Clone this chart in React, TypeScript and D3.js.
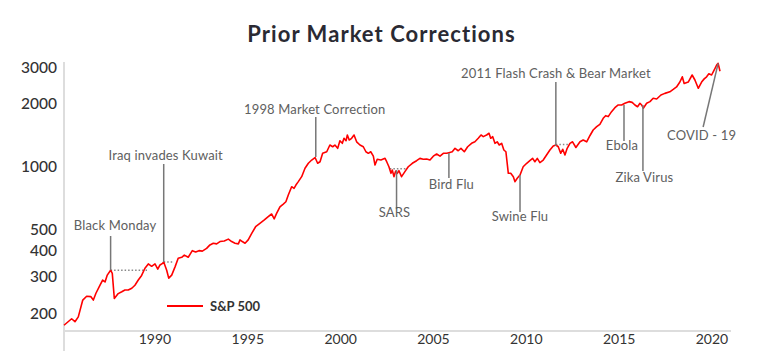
import * as d3 from 'd3';

// S&P 500 level, [decimal year, index]
const spx1985 = [
  [1985.10, 175], [1985.51, 188], [1985.69, 182], [1985.87, 192], [1986.11, 231], [1986.32, 241],
  [1986.54, 240], [1986.68, 231], [1986.82, 249], [1987.04, 272], [1987.18, 288], [1987.31, 282],
  [1987.43, 304], [1987.61, 321], [1987.70, 310], [1987.81, 235], [1988.02, 248], [1988.21, 253],
  [1988.38, 258], [1988.56, 258], [1988.75, 263], [1988.92, 272], [1989.10, 288], [1989.28, 303],
  [1989.46, 328], [1989.64, 344], [1989.82, 335], [1990.00, 344], [1990.15, 325], [1990.27, 340],
  [1990.41, 346], [1990.47, 351], [1990.63, 321], [1990.74, 294], [1990.90, 304], [1991.08, 333],
];
const spx1991 = [
  [1991.25, 366], [1991.44, 370], [1991.58, 379], [1991.79, 370], [1992.01, 398], [1992.19, 392],
  [1992.37, 398], [1992.55, 396], [1992.78, 408], [1992.96, 424], [1993.14, 432], [1993.32, 429],
  [1993.50, 440], [1993.73, 443], [1993.95, 452], [1994.13, 440], [1994.31, 432], [1994.49, 429],
  [1994.58, 448], [1994.70, 440], [1994.85, 432], [1995.02, 448], [1995.21, 481], [1995.42, 518],
  [1995.65, 537], [1995.89, 558], [1996.10, 579], [1996.28, 596], [1996.42, 565], [1996.55, 600],
  [1996.73, 645], [1996.91, 665], [1997.05, 682], [1997.18, 735], [1997.36, 805], [1997.49, 790],
  [1997.59, 820], [1997.72, 851], [1997.90, 899], [1998.08, 986], [1998.26, 1042], [1998.44, 1080],
  [1998.62, 1110], [1998.76, 1042], [1998.89, 1060], [1999.03, 1163], [1999.25, 1183], [1999.42, 1274],
  [1999.57, 1250], [1999.69, 1274], [1999.84, 1228], [1999.96, 1336], [2000.09, 1298], [2000.18, 1372],
  [2000.29, 1336], [2000.36, 1423], [2000.46, 1346], [2000.59, 1372], [2000.72, 1423], [2000.86, 1320],
  [2001.04, 1274], [2001.22, 1250], [2001.36, 1183], [2001.49, 1163], [2001.62, 1183], [2001.76, 1127],
  [2001.85, 1022], [2001.97, 1090], [2002.17, 1080], [2002.39, 1100],
];
const spx2002 = [
  [2002.48, 1060], [2002.60, 1003], [2002.71, 933], [2002.78, 967], [2002.87, 899], [2002.96, 955],
  [2003.05, 933], [2003.14, 960], [2003.28, 899], [2003.46, 950], [2003.64, 1003], [2003.86, 1042],
  [2004.09, 1072], [2004.27, 1100], [2004.45, 1090], [2004.63, 1093], [2004.81, 1080], [2004.99, 1127],
  [2005.17, 1154], [2005.35, 1127], [2005.53, 1163], [2005.71, 1163], [2005.83, 1171], [2006.01, 1183],
  [2006.16, 1228], [2006.33, 1196], [2006.48, 1228], [2006.66, 1183], [2006.84, 1250], [2007.05, 1298],
  [2007.23, 1320], [2007.41, 1372], [2007.56, 1423], [2007.68, 1397], [2007.86, 1423], [2007.99, 1450],
];
const spx2008 = [
  [2008.08, 1372], [2008.19, 1397], [2008.31, 1298], [2008.43, 1320], [2008.54, 1274], [2008.67, 1298],
  [2008.79, 1206], [2008.90, 1183], [2009.03, 933], [2009.16, 933], [2009.30, 899], [2009.39, 851],
  [2009.51, 883], [2009.66, 915], [2009.83, 1003], [2010.02, 1042], [2010.19, 1072], [2010.34, 1100],
  [2010.46, 1060], [2010.59, 1100], [2010.73, 1050], [2010.91, 1080], [2011.09, 1141], [2011.27, 1206],
  [2011.45, 1260], [2011.59, 1274], [2011.72, 1250], [2011.85, 1163], [2011.96, 1216], [2012.08, 1141],
  [2012.20, 1228], [2012.35, 1298], [2012.49, 1320], [2012.67, 1240], [2012.89, 1320], [2013.06, 1346],
  [2013.25, 1320], [2013.43, 1415], [2013.60, 1503], [2013.79, 1560], [2013.96, 1601],
];
const spx2014 = [
  [2014.14, 1710], [2014.27, 1760], [2014.41, 1742], [2014.59, 1840], [2014.77, 1922], [2014.95, 1980],
  [2015.13, 1980], [2015.31, 2017], [2015.53, 2054], [2015.70, 2038], [2015.85, 1980], [2015.99, 1942],
  [2016.12, 2017], [2016.21, 1980], [2016.30, 1910], [2016.48, 2017], [2016.66, 2054], [2016.83, 2131],
  [2017.02, 2115], [2017.25, 2210], [2017.46, 2250], [2017.73, 2290], [2017.91, 2350], [2018.09, 2415],
  [2018.27, 2550], [2018.40, 2700], [2018.50, 2510], [2018.72, 2550], [2018.93, 2755], [2019.08, 2607],
  [2019.26, 2380], [2019.44, 2550], [2019.58, 2640], [2019.71, 2700], [2019.83, 2790], [2019.98, 2755],
  [2020.12, 2911], [2020.25, 3076], [2020.33, 3130], [2020.43, 2870],
];

const yTicks = [200, 300, 400, 500, 1000, 2000, 3000];
const xTicks = [1990, 1995, 2000, 2005, 2010, 2015, 2020];

// events: name, year, index level where the callout touches the line
const eventNames = ['Black Monday', 'Iraq invades Kuwait', '1998 Market Correction', 'SARS', 'Bird Flu',
  'Swine Flu', '2011 Flash Crash & Bear Market', 'Ebola', 'Zika Virus', 'COVID - 19'];
const eventYears = [1987.61, 1990.47, 1998.66, 2003.01, 2005.83, 2009.66, 2011.59, 2015.26, 2016.28, 2020.33];
const eventValues = [321, 351, 1117, 967, 1167, 915, 1260, 1980, 1980, 3130];

// dotted "back to the pre-drop level" lines
const recoveryFrom = [1987.61, 1990.47, 2002.65, 2011.59];
const recoveryTo = [1989.57, 1990.97, 2003.50, 2012.35];
const recoveryLevel = [321, 351, 981, 1281];

// callout layout (pixels): where the leader ends, text baseline, text nudge
const calloutLayout = [
  { end: 236, text: 230, dx: 4.5 },
  { end: 164, text: 160, dx: 2 },
  { end: 117, text: 114, dx: -1 },
  { end: 209, text: 217, dx: -2 },
  { end: 178, text: 189, dx: 2.5 },
  { end: 212, text: 221, dx: 0 },
  { end: 82, text: 78, dx: 0 },
  { end: 141, text: 150, dx: -2 },
  { end: 171, text: 182, dx: 1.5 },
  { end: 127, text: 140, dx: -16.5, slant: -15 },
];

const font = "Lato, 'Open Sans', sans-serif";

export default function App() {
  const spx = [...spx1985, ...spx1991, ...spx2002, ...spx2008, ...spx2014];

  const x = d3.scaleLinear().domain([1985, 2021]).range([62.15, 730.57]);
  const y = d3.scaleLog().domain([160, 3200]).range([333.4, 61.4]);

  const line = d3.line<number[]>()
    .x(d => x(d[0]))
    .y(d => y(d[1]));

  return (
    <svg width={783} height={351} style={{ position: 'absolute', left: 0, top: 0, background: '#fff' }}>
      <text x={381.5} y={42} textAnchor="middle" fontFamily={font} fontWeight={700} fontSize={22}
        letterSpacing={1.05} fill="#2a2a33">Prior Market Corrections</text>

      {/* axes */}
      <line x1={64} x2={64} y1={62} y2={351} stroke="#dddddd" strokeWidth={2} />
      <line x1={64} x2={731} y1={331} y2={331} stroke="#dddddd" strokeWidth={2} />

      {yTicks.map(t => (
        <text key={t} x={57} y={y(t)} dy="0.35em" textAnchor="end" fontFamily={font}
          fontSize={15.5} fontWeight={500} fill="#333">{t}</text>
      ))}
      {xTicks.map(t => (
        <text key={t} x={x(t)} y={344} textAnchor="middle" fontFamily={font}
          fontSize={14} fill="#333">{t}</text>
      ))}

      {/* dotted recovery lines */}
      {recoveryFrom.map((s, i) => (
        <line key={i} x1={x(s)} x2={x(recoveryTo[i])} y1={y(recoveryLevel[i])} y2={y(recoveryLevel[i])}
          stroke="#888" strokeWidth={1.5} strokeDasharray="1.5,2" />
      ))}

      <path d={line(spx) ?? ''} fill="none" stroke="#ff0000" strokeWidth={1.6} strokeLinejoin="round" />

      {/* callouts */}
      {eventNames.map((name, i) => {
        const px = x(eventYears[i]);
        const py = y(eventValues[i]);
        const l = calloutLayout[i];
        const ex = px + (l.slant ?? 0);
        return (
          <g key={name}>
            <line x1={px} y1={py} x2={ex} y2={l.end} stroke="#777" strokeWidth={1.5} />
            <text x={px + l.dx} y={l.text} textAnchor="middle" fontFamily={font} fontSize={13}
              letterSpacing={0.15} fill="#606060">{name}</text>
          </g>
        );
      })}

      {/* legend */}
      <line x1={167} x2={203} y1={306} y2={306} stroke="#ff0000" strokeWidth={2} />
      <text x={210} y={306} dy="0.35em" fontFamily={font} fontWeight={700} fontSize={13}
        fill="#333">S&amp;P 500</text>
    </svg>
  );
}
